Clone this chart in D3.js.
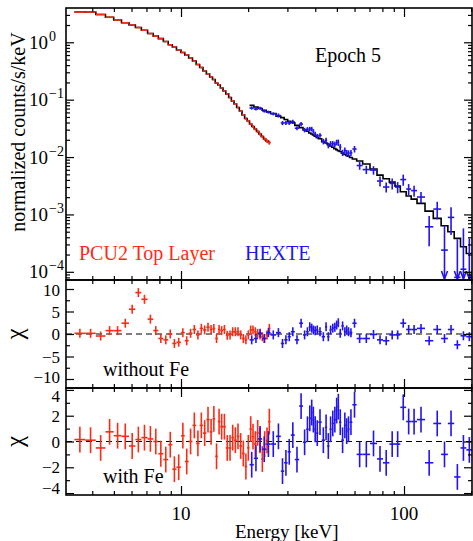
<!DOCTYPE html>
<html>
<head>
<meta charset="utf-8">
<script src="https://cdn.jsdelivr.net/npm/d3@7"></script>
<style>
body { margin: 0; background: #fff; }
svg text { font-family: "Liberation Serif", "Times New Roman", serif; fill: #000; }
</style>
</head>
<body>
<div class="canvas"></div>
<script>
// PCU2 top layer: bin centres (keV), normalized counts/s/keV, errors, residuals
var pcuEnergy = [3.52, 3.94, 4.37, 4.81, 5.18, 5.65, 6.05, 6.44, 6.85, 7.32, 7.70, 8.13, 8.54, 8.99, 9.30, 9.79,
    10.2, 10.6, 11.05, 11.47, 11.92, 12.33, 12.77, 13.22, 13.67, 14.02, 14.46, 14.80, 15.22, 15.64, 16.13, 16.59,
    17.06, 17.52, 18.01, 18.52, 19.03, 19.56, 20.04, 20.54, 21.03, 21.54, 22.08, 22.61, 23.16, 23.72, 24.31, 24.89];
var pcuFlux = [3.35, 3.38, 3.05, 2.73, 2.45, 2.19, 2.00, 1.81, 1.62, 1.42, 1.28, 1.16, 1.03, 0.905, 0.828, 0.734,
    0.664, 0.601, 0.533, 0.472, 0.410, 0.364, 0.316, 0.280, 0.248, 0.2245, 0.195, 0.180, 0.160, 0.142, 0.126, 0.109,
    0.0947, 0.0839, 0.0730, 0.0634, 0.0540, 0.0469, 0.0424, 0.0376, 0.0340, 0.0308, 0.0279, 0.0252, 0.0228, 0.0206, 0.0190, 0.0179];
var pcuErr = [0.03, 0.03, 0.03, 0.03, 0.02, 0.02, 0.02, 0.02, 0.02, 0.015, 0.015, 0.013, 0.012, 0.011, 0.01, 0.009,
    0.008, 0.008, 0.007, 0.007, 0.006, 0.006, 0.005, 0.005, 0.005, 0.005, 0.004, 0.004, 0.004, 0.0035, 0.0035, 0.003,
    0.003, 0.0028, 0.0026, 0.0025, 0.0023, 0.0022, 0.0021, 0.002, 0.0019, 0.0018, 0.0017, 0.0016, 0.0016, 0.0015, 0.0015, 0.0015];
var pcuChiNoFe = [0.15, 0.15, -0.45, 0.75, 0.75, 2.4, 5.5, 9.2, 7.7, 3.3, 0.75, -1.0, -1.3, 0, -2.1, -1.85,
    0.3, -1.5, 0.15, 1.0, -0.2, 1.25, 0.9, 1.5, 1.0, 1.2, -1.0, 1.0, 0.75, 1.0, -0.3, -0.2,
    0.5, 0.5, 0.5, -0.2, -1.0, -1.3, -0.2, 0.9, 0.9, 0.5, 0.15, -0.2, -0.6, -1.0, -0.2, 1.25];
var pcuChiFe = [0.15, 0.1, -0.5, 0.75, 0.45, 0.4, -0.35, 0.15, 0.3, 0.2, 0, -0.95, -1.4, -0.25, -2.15, -2.0,
    0.45, -1.55, 0, 1.25, -0.15, 1.25, 0.65, 1.7, 0.75, 1.75, -1.15, 1.55, 1.15, 1.15, -0.5, -0.5,
    0.3, 0.1, 0.4, -0.35, -0.93, -1.94, -0.49, 0.96, 0.38, -0.2, 0.67, 0.09, -1.36, -0.2, 0.09, 1.54];

// HEXTE
var hexEnergy = [20.75, 21.70, 22.61, 23.63, 24.64, 25.78, 27.60, 28.47, 29.57, 30.60, 31.56, 33.23, 34.53, 35.99,
    36.86, 37.90, 38.57, 39.22, 39.90, 40.86, 41.72, 43.78, 44.69, 45.76, 46.91, 47.89, 49.04, 49.91, 50.75, 51.64,
    53.10, 54.38, 55.34, 56.27, 57.68, 59.68, 63.04, 67.53, 73.37, 78.05, 83.06, 88.99, 93.32, 99.29, 105.3, 110.1,
    118.8, 129.9, 141.0, 152.7, 162.0, 174.1, 184.5, 196.3];
var hexFlux = [0.0715, 0.0687, 0.0710, 0.0634, 0.0607, 0.0567, 0.0531, 0.0392, 0.0395, 0.0395, 0.0412, 0.0318, 0.0376,
    0.0296, 0.0305, 0.0308, 0.0308, 0.0281, 0.0252, 0.0232, 0.0239, 0.0187, 0.0196, 0.0160, 0.0171, 0.0171, 0.0166,
    0.0180, 0.0179, 0.0149, 0.0119, 0.0130, 0.0118, 0.0116, 0.0118, 0.0138, 0.00711, 0.00605, 0.00593, 0.00382,
    0.00300, 0.00348, 0.00300, 0.00405, 0.00277, 0.00260, 0.00201, 0.000609, 0.00124, 0.000239, 0.000888, 0.00008,
    0.000111, 0.00006];
var hexErr = [0.0043, 0.0041, 0.0043, 0.0038, 0.0036, 0.0034, 0.0044, 0.0033, 0.0033, 0.0033, 0.0034, 0.0026, 0.0031,
    0.0027, 0.0028, 0.0028, 0.0028, 0.0026, 0.0023, 0.0021, 0.0022, 0.0021, 0.0022, 0.0018, 0.0019, 0.0019, 0.0018,
    0.0020, 0.0023, 0.0019, 0.0015, 0.0017, 0.0015, 0.0015, 0.0015, 0.0018, 0.0011, 0.0010, 0.0010, 0.00076,
    0.00060, 0.00077, 0.00066, 0.00089, 0.00061, 0.00057, 0.00044, 0.00033, 0.00042, 0.00040, 0.00045, 0.00029,
    0.00046, 0.00032];
var hexModel = [0.0797, 0.0744, 0.0701, 0.0655, 0.0614, 0.0573, 0.0514, 0.0486, 0.0451, 0.0421, 0.0396, 0.0356, 0.0326,
    0.0297, 0.0281, 0.0262, 0.0252, 0.0242, 0.0232, 0.0220, 0.0209, 0.0186, 0.0176, 0.0166, 0.0156, 0.0148, 0.0140,
    0.0135, 0.0129, 0.0125, 0.0117, 0.0111, 0.0107, 0.0104, 0.00984, 0.00923, 0.00852, 0.00755, 0.00618, 0.00485,
    0.00418, 0.00366, 0.00312, 0.00248, 0.00209, 0.00185, 0.00156, 0.00114, 0.000853, 0.000634, 0.000498, 0.000382,
    0.000273, 0.000209];
var hexChiNoFe = [-1.3, -1.0, 0.15, -1.0, 0.3, -0.2, 0.3, -2.1, -1.3, -0.6, 0.5, -1.3, 2.4, -0.2, 0.5, 1.6, 1.3, 0.9,
    0.7, 0.9, 0.5, -0.6, 1.6, -0.6, 0.9, 1.3, 1.5, 2.0, 2.5, 0.15, 1.8, 0.5, 0.9, 0.5, 0.3, 2.4, -1.0, -1.0, -0.1,
    -1.3, -1.5, -0.2, -0.2, 2.4, 1.0, 1.0, 1.25, -1.5, 1.0, -1.0, 1.0, -2.4, -0.4, -0.6];
var hexChiFe = [-1.8, -1.3, 0.2, -0.6, -0.2, -0.2, 0.4, -2.3, -1.65, -0.8, 0.5, -1.4, 2.75, -0.06, 0.95, 1.8, 2.25, 1.7,
    0.95, 0.65, 1.5, 0.1, 1.1, -0.35, 0.95, 1.4, 1.7, 2.4, 2.7, 1.5, 0.1, 1.25, 0.8, 0.95, 1.5, 2.85, -1.0, -1.0, -0.15,
    -1.35, -1.65, -0.2, -0.2, 2.65, 1.55, 1.55, 1.7, -1.65, 1.4, -1.0, 1.4, -2.75, -0.5, -0.65];

var xTickLabels = [10, 100];
var fluxDecades = [-4, -3, -2, -1, 0];
var chiTicksNoFe = [-10, -5, 0, 5, 10];
var chiTicksFe = [-4, -2, 0, 2, 4];

var red = "#ff2a14", blue = "#2214ee";
var width = 473, height = 541;
var left = 66, right = 472;

var svg = d3.select(".canvas").append("svg")
    .attr("width", width)
    .attr("height", height);

var x = d3.scaleLog().domain([3.05, 201.8]).range([left, right]);
var yFlux = d3.scaleLog().domain([7.2e-5, 3.96]).range([280, 8]);
var yNoFe = d3.scaleLinear().domain([-12, 12]).range([388, 280]);
var yFe = d3.scaleLinear().domain([-4.15, 4.15]).range([495, 388]);

// clamp: where the edge tick labels are pulled to, so they do not run into the next panel
var panels = [
    {name: "flux", y: yFlux, top: 8, bottom: 280},
    {name: "nofe", y: yNoFe, top: 280, bottom: 388, clamp: [290, 377]},
    {name: "fe", y: yFe, top: 388, bottom: 495, clamp: [396, 488]}
];

// bin edges half way (in log) between neighbouring centres
function binEdges(en) {
    return en.map(function(e, i) {
        var lo = i > 0 ? Math.sqrt(en[i - 1] * e) : e * Math.sqrt(e / en[i + 1]);
        var hi = i < en.length - 1 ? Math.sqrt(e * en[i + 1]) : e * Math.sqrt(e / en[i - 1]);
        return [lo, hi];
    });
}
var pcuBins = binEdges(pcuEnergy);
var hexBins = binEdges(hexEnergy);

panels.forEach(function(p) {
    svg.append("clipPath").attr("id", "clip-" + p.name)
        .append("rect")
        .attr("x", left).attr("y", p.top)
        .attr("width", right - left).attr("height", p.bottom - p.top);
    p.g = svg.append("g").attr("clip-path", "url(#clip-" + p.name + ")");
});

function stepPath(g, bins, vals, y, color) {
    var pts = [];
    bins.forEach(function(b, i) {
        pts.push([x(b[0]), y(vals[i])]);
        pts.push([x(b[1]), y(vals[i])]);
    });
    g.append("path")
        .attr("d", d3.line()(pts))
        .attr("fill", "none")
        .attr("stroke", color)
        .attr("stroke-width", 1.6);
}

function crosses(g, bins, vals, errs, y, color, floor) {
    var d = vals.map(function(v, i) { return {v: v, e: errs[i], b: bins[i]}; });
    var grp = g.append("g").attr("stroke", color).attr("stroke-width", 1.6).attr("fill", "none");
    grp.selectAll("line.h").data(d.filter(function(o) { return floor === undefined || o.v > floor; }))
        .join("line").attr("class", "h")
        .attr("x1", function(o) { return x(o.b[0]); })
        .attr("x2", function(o) { return x(o.b[1]); })
        .attr("y1", function(o) { return y(o.v); })
        .attr("y2", function(o) { return y(o.v); });
    grp.selectAll("line.v").data(d)
        .join("line").attr("class", "v")
        .attr("x1", function(o) { return x(Math.sqrt(o.b[0] * o.b[1])); })
        .attr("x2", function(o) { return x(Math.sqrt(o.b[0] * o.b[1])); })
        .attr("y1", function(o) { return y(o.v + o.e); })
        .attr("y2", function(o) {
            if (floor !== undefined && o.v - o.e <= floor) return y.range()[0];
            return y(o.v - o.e);
        });
    // upper limits reaching the bottom get an arrow head
    if (floor !== undefined) {
        grp.selectAll("path.arrow").data(d.filter(function(o) { return o.v - o.e <= floor; }))
            .join("path").attr("class", "arrow")
            .attr("d", function(o) {
                var cx = x(Math.sqrt(o.b[0] * o.b[1])), by = y.range()[0] - 1;
                return "M" + (cx - 3) + "," + (by - 8) + "L" + cx + "," + by + "L" + (cx + 3) + "," + (by - 8);
            });
    }
}

// top panel: spectra and model
var ones = function(arr) { return arr.map(function() { return 1; }); };
stepPath(panels[0].g, pcuBins, pcuFlux, yFlux, "#000");
crosses(panels[0].g, pcuBins, pcuFlux, pcuErr, yFlux, red);
stepPath(panels[0].g, hexBins, hexModel, yFlux, "#000");
crosses(panels[0].g, hexBins, hexFlux, hexErr, yFlux, blue, yFlux.domain()[0]);

// residual panels
[[panels[1], pcuChiNoFe, hexChiNoFe], [panels[2], pcuChiFe, hexChiFe]].forEach(function(r) {
    var p = r[0];
    p.g.append("line")
        .attr("x1", left).attr("x2", right)
        .attr("y1", p.y(0)).attr("y2", p.y(0))
        .attr("stroke", "#000").attr("stroke-width", 1.2)
        .attr("stroke-dasharray", "6,4");
    crosses(p.g, pcuBins, r[1], ones(r[1]), p.y, red);
    crosses(p.g, hexBins, r[2], ones(r[2]), p.y, blue);
});

// ticks on all four sides of each panel
function tickGroup(axis, tx, ty) {
    var g = svg.append("g").attr("transform", "translate(" + tx + "," + ty + ")").call(axis);
    g.select(".domain").remove();
    g.selectAll("line").attr("stroke", "#000").attr("stroke-width", 1.2);
    g.selectAll("text").remove();
}
var xMajor = x.ticks().filter(function(v) { return Math.abs(Math.log10(v) % 1) < 1e-9; });
var xMinor = x.ticks().filter(function(v) { return xMajor.indexOf(v) < 0; });

panels.forEach(function(p) {
    [[xMajor, 9], [xMinor, 4]].forEach(function(t) {
        tickGroup(d3.axisBottom(x).tickValues(t[0]).tickSize(-t[1]), 0, p.bottom);
        tickGroup(d3.axisTop(x).tickValues(t[0]).tickSize(-t[1]), 0, p.top);
    });
    var major, minor;
    if (p.name === "flux") {
        major = fluxDecades.map(function(e) { return Math.pow(10, e); });
        minor = p.y.ticks().filter(function(v) { return major.indexOf(v) < 0; });
    } else if (p.name === "nofe") {
        major = chiTicksNoFe;
        minor = d3.range(-10, 12, 2.5).filter(function(v) { return major.indexOf(v) < 0; });
    } else {
        major = chiTicksFe;
        minor = d3.range(-3, 4, 2);
    }
    [[major, 8], [minor, 4]].forEach(function(t) {
        tickGroup(d3.axisLeft(p.y).tickValues(t[0]).tickSize(-t[1]), left, 0);
        tickGroup(d3.axisRight(p.y).tickValues(t[0]).tickSize(-t[1]), right, 0);
    });
    svg.append("rect")
        .attr("x", left).attr("y", p.top)
        .attr("width", right - left).attr("height", p.bottom - p.top)
        .attr("fill", "none").attr("stroke", "#000").attr("stroke-width", 1.6);
});

// flux tick labels 10^n
var fl = svg.append("g").selectAll("text").data(fluxDecades).join("text")
    .attr("x", 29)
    .attr("y", function(e) { return yFlux(Math.pow(10, e)) + 6.5; })
    .style("font-size", "19px");
fl.append("tspan").text("10");
fl.append("tspan")
    .attr("dy", -8).attr("dx", 1)
    .style("font-size", "14px")
    .text(function(e) { return e < 0 ? "\u2212" + (-e) : String(e); });

// chi tick labels
[panels[1], panels[2]].forEach(function(p, k) {
    var vals = k === 0 ? chiTicksNoFe : chiTicksFe;
    svg.append("g").selectAll("text").data(vals).join("text")
        .attr("x", 60)
        .attr("y", function(v) { return Math.max(p.clamp[0], Math.min(p.clamp[1], p.y(v))) + 6; })
        .attr("text-anchor", "end")
        .style("font-size", "17px")
        .text(function(v) { return v < 0 ? "\u2212" + (-v) : String(v); });
    svg.append("text")
        .attr("transform", "translate(23," + p.y(0) + ") rotate(-90)")
        .attr("text-anchor", "middle")
        .style("font-size", "25px")
        .text("\u03c7");
});

// energy tick labels
svg.append("g").selectAll("text").data(xTickLabels).join("text")
    .attr("x", function(v) { return x(v); })
    .attr("y", 520)
    .attr("text-anchor", "middle")
    .style("font-size", "19px")
    .text(function(v) { return v; });

svg.append("text")
    .attr("x", 235).attr("y", 538)
    .style("font-size", "19px")
    .text("Energy [keV]");

svg.append("text")
    .attr("transform", "translate(24.5,132) rotate(-90)")
    .attr("text-anchor", "middle")
    .style("font-size", "20px")
    .text("normalized counts/s/keV");

svg.append("text").attr("x", 315).attr("y", 62).style("font-size", "20px").text("Epoch 5");
svg.append("text").attr("x", 79).attr("y", 260).style("font-size", "20px")
    .style("fill", red).text("PCU2 Top Layer");
svg.append("text").attr("x", 245).attr("y", 260).style("font-size", "20px")
    .style("fill", blue).text("HEXTE");
svg.append("text").attr("x", 103).attr("y", 376).style("font-size", "20px").text("without Fe");
svg.append("text").attr("x", 103).attr("y", 483).style("font-size", "20px").text("with Fe");
</script>
</body>
</html>
